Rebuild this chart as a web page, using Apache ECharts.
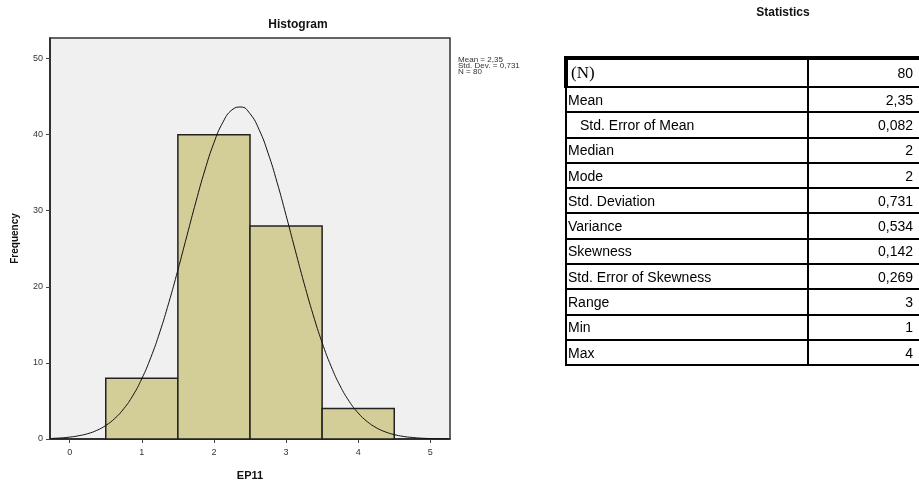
<!DOCTYPE html>
<html>
<head>
<meta charset="utf-8">
<script src="https://cdn.jsdelivr.net/npm/echarts@6/dist/echarts.min.js"></script>
<style>
  html, body { margin: 0; padding: 0; background: #fff; overflow: hidden; }
  #main { position: absolute; left: 0; top: 0; width: 919px; height: 484px; }
  #statTitle { position: absolute; left: 700px; width: 166px; top: 5px; text-align: center;
    font: bold 12px "Liberation Sans", Arial, sans-serif; color: #111; }
  #stats { position: absolute; left: 564px; top: 56px; width: 354px; border-collapse: collapse; table-layout: fixed;
    font: 14px "Liberation Sans", Arial, sans-serif; color: #000; }
  #stats td { border: 2px solid #000; padding: 0; height: 23.3px; vertical-align: middle; white-space: nowrap; }
  #stats td.name { padding-left: 1px; }
  #stats td.val { text-align: right; padding-right: 7px; border-right: none; }
  #stats tr.first td { border-top-width: 4px; height: 26px; }
  #stats tr.first td.name { border-left-width: 4px; font: 17px "Liberation Serif", "Times New Roman", serif; padding-left: 3px; }
  #stats td.indent { padding-left: 13px; }
</style>
</head>
<body>
<div id="main"></div>
<div id="statTitle">Statistics</div>
<table id="stats"><colgroup><col style="width:242px"><col style="width:112px"></colgroup><tbody id="statBody"></tbody></table>
<script>
// histogram bins (EP11)
var binLow = [0.5, 1.5, 2.5, 3.5];
var binHigh = [1.5, 2.5, 3.5, 4.5];
var counts = [8, 40, 28, 4];

// normal curve
var curveX = [-0.25, -0.125, 0, 0.125, 0.25, 0.375, 0.5, 0.625, 0.75, 0.875, 1, 1.125, 1.25, 1.375, 1.5, 1.625, 1.75, 1.875, 2, 2.125, 2.25, 2.375, 2.5, 2.625, 2.75, 2.875, 3, 3.125, 3.25, 3.375, 3.5, 3.625, 3.75, 3.875, 4, 4.125, 4.25, 4.375, 4.5, 4.625, 4.75, 4.875, 5, 5.125, 5.25];
var curveY = [0.08, 0.14, 0.25, 0.43, 0.7, 1.13, 1.78, 2.7, 3.98, 5.7, 7.93, 10.72, 14.07, 17.94, 22.21, 26.7, 31.17, 35.35, 38.93, 41.64, 43.25, 43.63, 42.75, 40.68, 37.59, 33.74, 29.4, 24.89, 20.46, 16.34, 12.67, 9.54, 6.98, 4.96, 3.42, 2.29, 1.49, 0.94, 0.58, 0.34, 0.2, 0.11, 0.06, 0.03, 0.02];

// tick labels
var xTicks = [0, 1, 2, 3, 4, 5];
var yTicks = [0, 10, 20, 30, 40, 50];

// side note + statistics table
var noteLines = ['Mean = 2,35', 'Std. Dev. = 0,731', 'N = 80'];
var statNames = ['(N)', 'Mean', 'Std. Error of Mean', 'Median', 'Mode', 'Std. Deviation', 'Variance', 'Skewness', 'Std. Error of Skewness', 'Range', 'Min', 'Max'];
var statValues = ['80', '2,35', '0,082', '2', '2', '0,731', '0,534', '0,142', '0,269', '3', '1', '4'];

// 表格
var html = '';
for (var i = 0; i < statNames.length; i++) {
    var cls = 'name' + (statNames[i] == 'Std. Error of Mean' ? ' indent' : '');
    html += '<tr' + (i == 0 ? ' class="first"' : '') + '><td class="' + cls + '">' + statNames[i] + '</td><td class="val">' + statValues[i] + '</td></tr>';
}
document.getElementById('statBody').innerHTML = html;

// 直方图
var binData = [];
for (var i = 0; i < counts.length; i++) {
    binData.push([binLow[i], binHigh[i], counts[i]]);
}
var curveData = [];
for (var i = 0; i < curveX.length; i++) {
    curveData.push([curveX[i], curveY[i]]);
}

var font = '"Liberation Sans", Arial, sans-serif';
var myChart = echarts.init(document.getElementById('main'));
var option = {
    animation: false,
    textStyle: { fontFamily: font },
    grid: {
        left: 50, top: 38, width: 400, height: 401,
        outerBoundsMode: 'none', containLabel: false,
        show: true, backgroundColor: '#f0f0f0', borderColor: '#333', borderWidth: 1.5
    },
    xAxis: {
        type: 'value', min: -0.273, max: 5.273,
        name: 'EP11', nameLocation: 'middle', nameGap: 31,
        nameTextStyle: { fontWeight: 'bold', fontSize: 11, color: '#111', fontFamily: font },
        axisLine: { show: true, onZero: false, lineStyle: { color: '#222', width: 1.5 } },
        axisTick: { show: true, customValues: xTicks, length: 4, lineStyle: { color: '#444' } },
        axisLabel: { customValues: xTicks, fontSize: 9, color: '#333', margin: 9 },
        splitLine: { show: false }
    },
    yAxis: {
        type: 'value', min: 0, max: 52.7,
        name: 'Frequency', nameLocation: 'middle', nameGap: 30,
        nameTextStyle: { fontWeight: 'bold', fontSize: 10, color: '#111', fontFamily: font },
        axisLine: { show: true, onZero: false, lineStyle: { color: '#222', width: 1.5 } },
        axisTick: { show: true, customValues: yTicks, length: 4, lineStyle: { color: '#444' } },
        axisLabel: { customValues: yTicks, fontSize: 9, color: '#333', margin: 7 },
        splitLine: { show: false }
    },
    graphic: [
        { type: 'text', x: 298, y: 25, style: { text: 'Histogram', fill: '#111', font: 'bold 12px ' + font, textAlign: 'center', textVerticalAlign: 'middle' } },
        { type: 'text', x: 458, y: 57, scaleX: 1.15, style: { text: noteLines.join('\n'), fill: '#333', font: '7px ' + font, lineHeight: 6 } }
    ],
    series: [
        {
            type: 'custom',
            data: binData,
            encode: { x: [0, 1], y: 2 },
            renderItem: function (params, api) {
                var p0 = api.coord([api.value(0), api.value(2)]);
                var p1 = api.coord([api.value(1), 0]);
                return {
                    type: 'rect',
                    shape: { x: p0[0], y: p0[1], width: p1[0] - p0[0], height: p1[1] - p0[1] },
                    style: { fill: '#d3ce98', stroke: '#222', lineWidth: 1.5 }
                };
            },
            z: 2
        },
        {
            type: 'line',
            data: curveData,
            smooth: true,
            showSymbol: false,
            lineStyle: { color: '#111', width: 1 },
            z: 3
        }
    ]
};
myChart.setOption(option);
</script>
</body>
</html>
